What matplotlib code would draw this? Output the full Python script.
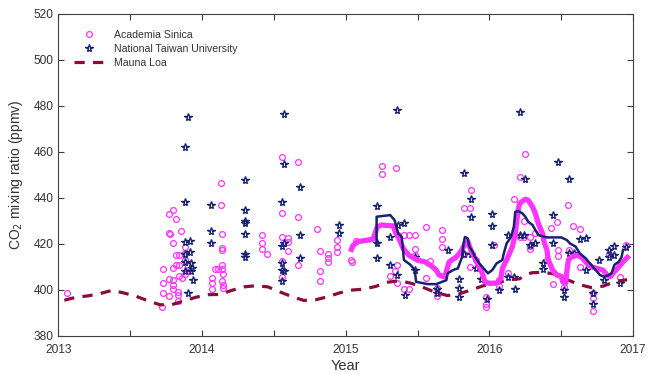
import numpy as np
import matplotlib
matplotlib.use("Agg")
import matplotlib.pyplot as plt
from matplotlib.ticker import MultipleLocator, FuncFormatter

plt.rcParams['font.family'] = ['Liberation Sans', 'DejaVu Sans']

# Academia Sinica samples (decimal year, ppmv)
as_year = [2013.06,
           2013.73, 2013.77, 2013.80, 2013.82, 2013.855, 2013.77, 2013.775, 2013.80, 2013.82, 2013.84,
           2013.82, 2013.80, 2013.84, 2013.88, 2013.73, 2013.77, 2013.80, 2013.80, 2013.80, 2013.73,
           2013.77, 2013.83, 2013.83, 2013.83, 2013.84, 2013.86, 2013.72, 2013.88, 2013.90, 2013.90,
           2013.88, 2013.88,
           2014.07, 2014.07, 2014.07, 2014.09, 2014.11, 2014.13, 2014.13, 2014.14, 2014.14, 2014.14,
           2014.14, 2014.14, 2014.145, 2014.14, 2014.145, 2014.145,
           2014.42, 2014.42, 2014.42, 2014.45,
           2014.56, 2014.67, 2014.56, 2014.56, 2014.56, 2014.56, 2014.60, 2014.595, 2014.60, 2014.67,
           2014.67,
           2014.80, 2014.82, 2014.82, 2014.82, 2014.88, 2014.88, 2014.88, 2014.94, 2014.94, 2014.94,
           2015.04, 2015.045, 2015.07,
           2015.25, 2015.25, 2015.35, 2015.365, 2015.405, 2015.44, 2015.48, 2015.56, 2015.48, 2015.48,
           2015.36, 2015.34, 2015.31, 2015.36, 2015.405, 2015.44, 2015.56, 2015.59, 2015.635, 2015.635,
           2015.67, 2015.67, 2015.67, 2015.82, 2015.865, 2015.87, 2015.82, 2015.865, 2015.905, 2015.975,
           2015.975, 2015.975, 2016.03, 2016.07, 2016.07, 2016.13, 2016.17, 2016.21, 2016.24, 2016.24,
           2016.28, 2016.285, 2016.285, 2016.32, 2016.40, 2016.43, 2016.44, 2016.47, 2016.475, 2016.48,
           2016.52, 2016.52, 2016.55, 2016.555, 2016.585, 2016.63, 2016.63, 2016.72, 2016.72, 2016.72,
           2016.83, 2016.91, 2016.95, 2016.21, 2016.245]
as_co2 = [398.7,
          409.0, 433.0, 434.6, 430.8, 425.4, 424.8, 424.2, 420.4, 415.2, 415.2,
          411.0, 409.4, 411.0, 418.7, 402.8, 404.6, 404.2, 402.2, 400.2, 398.7,
          397.3, 399.0, 397.9, 395.0, 406.0, 405.2, 392.6, 407.1, 410.4, 408.7,
          413.0, 416.0,
          405.0, 402.8, 400.2, 408.9, 409.0, 446.3, 437.0, 424.2, 418.0, 417.2,
          410.6, 409.0, 406.8, 404.0, 402.0, 401.0,
          423.7, 420.5, 417.6, 415.8,
          457.6, 455.4, 433.5, 423.0, 412.7, 405.4, 422.5, 420.8, 417.0, 431.5,
          411.0,
          426.5, 416.8, 408.4, 404.0, 415.5, 413.8, 412.3, 421.7, 418.8, 416.5,
          413.0, 412.3, 421.4,
          453.8, 450.5, 452.8, 423.7, 423.7, 423.7, 423.7, 427.5, 417.6, 415.2,
          410.9, 408.4, 406.0, 402.8, 400.2, 400.2, 405.2, 412.6, 401.0, 397.3,
          426.0, 422.2, 418.7, 435.8, 435.8, 443.4, 415.8, 409.8, 413.0, 396.7,
          393.8, 392.5, 419.6, 404.2, 401.6, 407.2, 439.4, 423.0, 430.1, 423.0,
          423.0, 419.1, 417.6, 424.5, 413.0, 426.8, 402.6, 429.3, 417.4, 414.8,
          404.2, 401.3, 436.8, 417.4, 427.8, 426.3, 409.8, 398.8, 396.3, 390.7,
          415.8, 405.7, 419.6, 449.1, 458.9]

# National Taiwan University samples
ntu_year = [2013.88, 2013.90, 2014.30, 2014.57, 2014.57, 2014.68,
            2015.36, 2016.21, 2016.48, 2015.82, 2016.25, 2016.555,
            2013.88, 2013.88, 2013.915, 2013.88, 2013.915, 2013.88, 2013.92, 2013.93, 2013.885, 2013.92,
            2013.94, 2013.90,
            2014.06, 2014.06, 2014.06,
            2014.30, 2014.30, 2014.30, 2014.30, 2014.30, 2014.30,
            2014.56, 2014.56, 2014.57, 2014.56, 2014.56, 2014.57, 2014.56, 2014.68, 2014.68,
            2014.95, 2014.95,
            2015.215, 2015.215, 2015.215, 2015.31, 2015.31, 2015.36, 2015.365, 2015.405, 2015.41, 2015.48,
            2015.48, 2015.635, 2015.635, 2015.71, 2015.79, 2015.79, 2015.79, 2015.82, 2015.87, 2015.87,
            2015.87, 2015.905, 2015.94, 2016.02, 2016.02, 2016.02, 2015.98, 2016.07, 2016.13, 2016.13,
            2016.17, 2016.175, 2016.21, 2016.24, 2016.285, 2016.32, 2016.37, 2016.37, 2016.44, 2016.44,
            2016.52, 2016.52, 2016.555, 2016.59, 2016.63, 2016.67, 2016.67, 2016.72, 2016.72, 2016.765,
            2016.80, 2016.83, 2016.835, 2016.87, 2016.87, 2016.91, 2016.95]
ntu_co2 = [462.0, 475.0, 447.6, 476.5, 454.6, 444.8,
           478.4, 477.3, 455.8, 451.0, 448.4, 448.0,
           438.1, 420.9, 421.4, 415.8, 416.5, 412.2, 411.5, 409.7, 408.3, 408.3,
           404.3, 398.6,
           436.7, 425.5, 420.2,
           434.7, 429.8, 428.9, 424.2, 415.5, 414.3,
           438.1, 419.0, 420.5, 411.5, 408.7, 408.4, 404.0, 423.9, 413.8,
           428.0, 424.5,
           436.5, 420.3, 413.8, 423.0, 410.9, 406.5, 428.2, 428.9, 397.8, 414.3,
           408.7, 400.3, 398.5, 417.4, 404.9, 400.6, 396.7, 415.5, 439.4, 431.5,
           415.5, 409.6, 404.5, 432.9, 427.8, 419.4, 396.2, 400.0, 423.7, 405.4,
           405.4, 400.2, 423.7, 423.7, 419.6, 420.5, 411.5, 408.9, 432.7, 420.5,
           400.0, 397.1, 416.2, 416.2, 422.3, 422.7, 408.7, 398.8, 393.8, 413.0,
           404.2, 417.4, 414.1, 419.0, 415.0, 402.8, 418.7]

# Mauna Loa monthly means, 2013-2016
ml_co2 = [395.5, 396.8, 397.4, 398.4, 399.8, 398.6, 397.2, 395.2, 393.5, 393.6, 395.2, 396.8,
          397.9, 398.0, 399.8, 401.3, 401.8, 401.3, 399.1, 397.1, 395.4, 395.7, 397.0, 398.7,
          399.9, 400.3, 401.5, 403.3, 404.0, 402.8, 401.0, 398.9, 397.5, 398.3, 400.0, 401.8,
          402.6, 404.4, 404.8, 407.4, 407.7, 406.8, 404.4, 402.3, 401.0, 401.6, 403.6, 404.4]
ml_year = 2013 + (np.arange(len(ml_co2)) + 0.5) / 12

# running means
as_run_year = [2015.04, 2015.05, 2015.08, 2015.19, 2015.22, 2015.25, 2015.33, 2015.35, 2015.37, 2015.40,
               2015.44, 2015.50, 2015.55, 2015.59, 2015.63, 2015.65, 2015.69, 2015.70, 2015.72, 2015.77,
               2015.80, 2015.83, 2015.85, 2015.87, 2015.905, 2015.93, 2015.95, 2015.97, 2016.00, 2016.055,
               2016.08, 2016.09, 2016.12, 2016.16, 2016.18, 2016.20, 2016.21, 2016.25, 2016.27, 2016.30,
               2016.32, 2016.34, 2016.37, 2016.38, 2016.40, 2016.41, 2016.44, 2016.47, 2016.50, 2016.51,
               2016.53, 2016.54, 2016.55, 2016.57, 2016.61, 2016.64, 2016.68, 2016.71, 2016.75, 2016.79,
               2016.82, 2016.84, 2016.86, 2016.90, 2016.93, 2016.96]
as_run_co2 = [417.6, 419.2, 420.9, 422.0, 427.4, 428.2, 427.8, 424.5, 422.4, 418.0,
              415.0, 412.9, 412.2, 410.7, 408.6, 406.4, 405.7, 407.9, 412.2, 414.3,
              416.5, 420.0, 421.0, 417.4, 413.0, 410.0, 407.2, 403.5, 402.8, 403.0,
              405.0, 409.3, 413.0, 418.8, 424.5, 434.7, 437.6, 439.4, 439.0, 436.1,
              433.2, 428.9, 424.5, 420.9, 417.4, 413.0, 408.6, 406.4, 405.9, 403.5,
              402.8, 408.6, 413.0, 414.3, 415.0, 414.3, 411.5, 410.0, 409.3, 408.6,
              406.4, 405.7, 407.2, 410.0, 412.2, 414.1]

ntu_run_year = [2015.215, 2015.215, 2015.31, 2015.34, 2015.365, 2015.39, 2015.405, 2015.45, 2015.48, 2015.49,
                2015.57, 2015.63, 2015.70, 2015.71, 2015.75, 2015.78, 2015.81, 2015.82, 2015.83, 2015.85,
                2015.86, 2015.88, 2015.90, 2015.93, 2015.97, 2015.99, 2016.02, 2016.05, 2016.09, 2016.10,
                2016.12, 2016.15, 2016.17, 2016.18, 2016.20, 2016.23, 2016.25, 2016.27, 2016.30, 2016.32,
                2016.34, 2016.40, 2016.50, 2016.54, 2016.56, 2016.60, 2016.63, 2016.67, 2016.69, 2016.71,
                2016.73, 2016.77, 2016.80, 2016.83, 2016.85, 2016.87, 2016.90, 2016.92, 2016.93]
ntu_run_co2 = [419.5, 431.8, 432.5, 430.3, 424.5, 423.0, 413.0, 410.9, 408.7, 403.5,
               402.5, 402.5, 404.2, 407.2, 408.7, 409.3, 414.3, 420.2, 423.0, 422.3,
               418.8, 417.0, 414.3, 411.5, 408.6, 407.2, 408.6, 411.5, 413.0, 415.8,
               420.2, 423.0, 427.4, 433.9, 434.3, 433.2, 431.8, 429.6, 428.2, 426.0,
               423.8, 422.8, 422.8, 421.6, 420.2, 418.8, 415.8, 413.7, 412.2, 410.8,
               409.3, 406.4, 405.7, 406.4, 407.2, 410.9, 412.2, 414.3, 417.4]

magenta = '#ff33ff'
navy = '#172270'
maroon = '#8a0c3e'
axcol = '#404040'

fig = plt.figure(figsize=(6.48, 3.74), dpi=100)
ax = fig.add_axes([0.09, 0.102, 0.887, 0.861])

ax.plot(as_year, as_co2, 'o', ms=4.2, mfc='none', mec=magenta, mew=0.9, label='Academia Sinica')
ax.plot(ntu_year, ntu_co2, '*', ms=5.8, mfc='none', mec=navy, mew=1.0, label='National Taiwan University')
ax.plot(ml_year, ml_co2, '--', color=maroon, lw=2.3, dashes=(3.2, 2.6), label='Mauna Loa')
ax.plot(as_run_year, as_run_co2, '-', color=magenta, lw=3.8, solid_joinstyle='round')
ax.plot(ntu_run_year, ntu_run_co2, '-', color=navy, lw=1.8)

ax.set_xlim(2013, 2017)
ax.set_ylim(380, 520)
ax.xaxis.set_major_locator(MultipleLocator(0.5))
ax.xaxis.set_major_formatter(FuncFormatter(lambda v, p: '%d' % v if abs(v - round(v)) < 1e-6 else ''))
ax.yaxis.set_major_locator(MultipleLocator(20))
ax.tick_params(direction='in', top=True, right=True, length=4, width=0.8, color=axcol,
               labelcolor='#333333', labelsize=8.6)
ax.tick_params(axis='x', pad=6)
for s in ax.spines.values():
    s.set_color(axcol)
    s.set_linewidth(0.8)

ax.set_xlabel('Year', fontsize=10.5, color='#333333', labelpad=2)
ax.set_ylabel('CO$_2$ mixing ratio (ppmv)', fontsize=10, color='#333333', labelpad=6)

leg = ax.legend(loc='upper left', frameon=False, fontsize=7.6, handlelength=2.8,
                handletextpad=1.0, borderaxespad=1.1, labelspacing=0.4)
for t in leg.get_texts():
    t.set_color('#333333')

fig.savefig('out.png', dpi=100)
